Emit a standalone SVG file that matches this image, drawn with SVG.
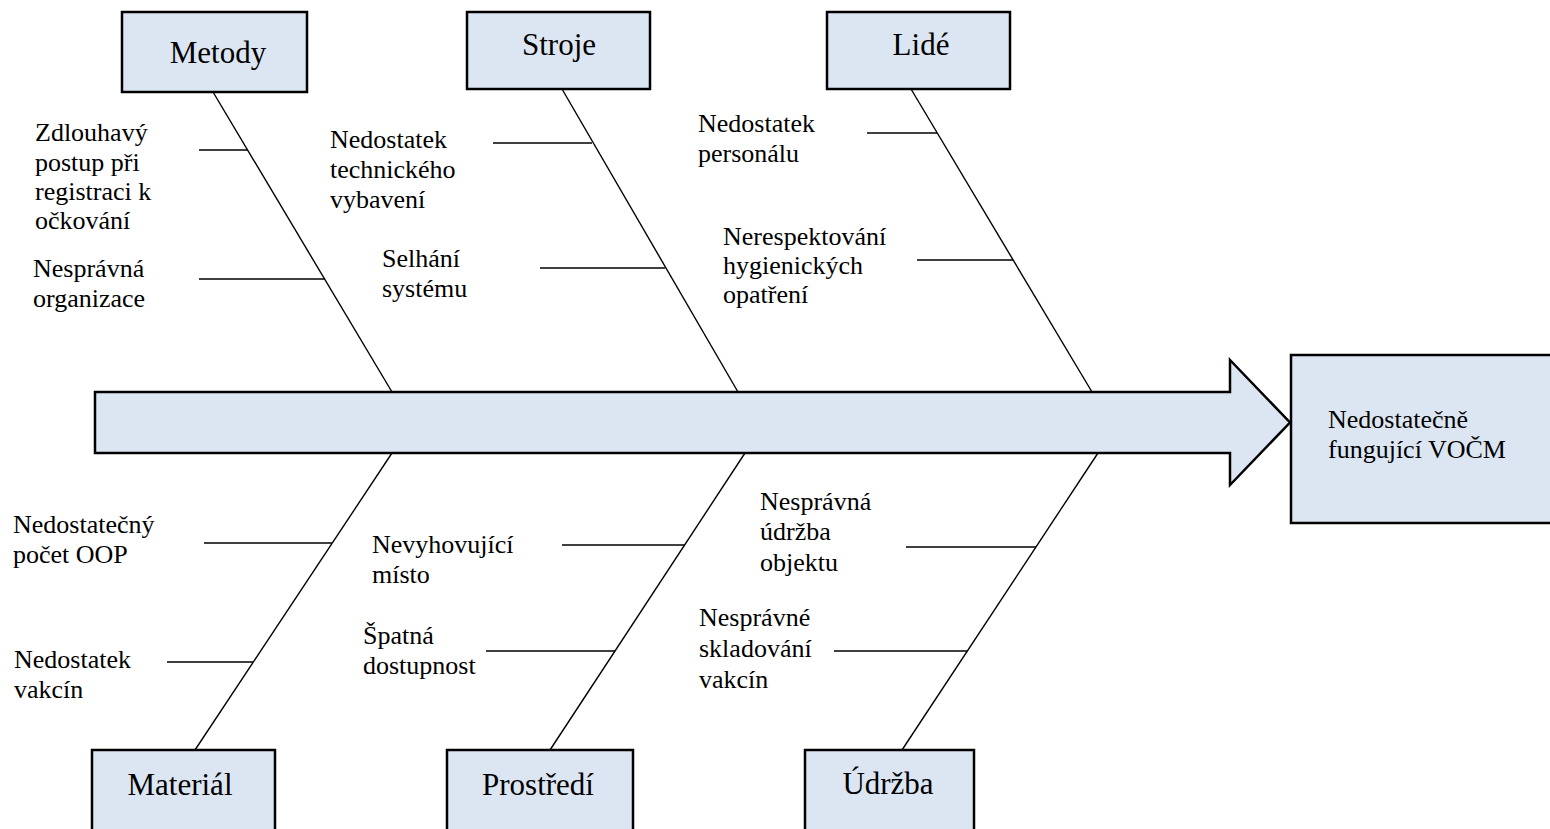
<svg xmlns="http://www.w3.org/2000/svg" width="1550" height="829" viewBox="0 0 1550 829">
  <style>
    .box { fill: #dce6f2; stroke: #000; stroke-width: 2.5; }
    .bone { stroke: #000; stroke-width: 1.4; fill: none; }
    .head { font-size: 31px; fill: #000; text-anchor: middle; }
    .lbl { font-size: 26px; fill: #000; }
  </style>
  <rect width="1550" height="829" fill="#fff"/>

  <!-- fish spine -->
  <g id="spine">
    <polygon class="box" points="95,392 1230,392 1230,360 1290,422.5 1230,485 1230,453 95,453"/>
  </g>

  <g font-family="Liberation Serif, DejaVu Serif, serif">
  <!-- effect -->
  <g id="effect">
    <rect class="box" x="1291" y="355" width="280" height="168"/>
    <text class="lbl" x="1328" y="428">Nedostatečně</text>
    <text class="lbl" x="1328" y="458">fungující VOČM</text>
  </g>

  <!-- category boxes -->
  <g id="metody">
    <rect class="box" x="122" y="12" width="185" height="80"/>
    <text class="head" x="218" y="63">Metody</text>
  </g>
  <g id="stroje">
    <rect class="box" x="467" y="12" width="183" height="77"/>
    <text class="head" x="559" y="55">Stroje</text>
  </g>
  <g id="lide">
    <rect class="box" x="827" y="12" width="183" height="77"/>
    <text class="head" x="921" y="55">Lidé</text>
  </g>
  <g id="material">
    <rect class="box" x="92" y="750" width="183" height="100"/>
    <text class="head" x="180" y="795">Materiál</text>
  </g>
  <g id="prostredi">
    <rect class="box" x="447" y="750" width="186" height="100"/>
    <text class="head" x="538" y="795">Prostředí</text>
  </g>
  <g id="udrzba">
    <rect class="box" x="805" y="750" width="169" height="100"/>
    <text class="head" x="888" y="794">Údržba</text>
  </g>

  <!-- cause labels -->
  <g id="causes">
    <text class="lbl" x="35" y="141">Zdlouhavý</text>
    <text class="lbl" x="35" y="171">postup při</text>
    <text class="lbl" x="35" y="200">registraci k</text>
    <text class="lbl" x="35" y="229">očkování</text>
    <text class="lbl" x="33" y="277">Nesprávná</text>
    <text class="lbl" x="33" y="307">organizace</text>

    <text class="lbl" x="330" y="148">Nedostatek</text>
    <text class="lbl" x="330" y="178">technického</text>
    <text class="lbl" x="330" y="208">vybavení</text>
    <text class="lbl" x="382" y="267">Selhání</text>
    <text class="lbl" x="382" y="297">systému</text>

    <text class="lbl" x="698" y="132">Nedostatek</text>
    <text class="lbl" x="698" y="162">personálu</text>
    <text class="lbl" x="723" y="245">Nerespektování</text>
    <text class="lbl" x="723" y="274">hygienických</text>
    <text class="lbl" x="723" y="303">opatření</text>

    <text class="lbl" x="13" y="533">Nedostatečný</text>
    <text class="lbl" x="13" y="563">počet OOP</text>
    <text class="lbl" x="14" y="668">Nedostatek</text>
    <text class="lbl" x="14" y="698">vakcín</text>

    <text class="lbl" x="372" y="553">Nevyhovující</text>
    <text class="lbl" x="372" y="583">místo</text>
    <text class="lbl" x="363" y="644">Špatná</text>
    <text class="lbl" x="363" y="674">dostupnost</text>

    <text class="lbl" x="760" y="510">Nesprávná</text>
    <text class="lbl" x="760" y="540">údržba</text>
    <text class="lbl" x="760" y="571">objektu</text>
    <text class="lbl" x="699" y="626">Nesprávné</text>
    <text class="lbl" x="699" y="657">skladování</text>
    <text class="lbl" x="699" y="688">vakcín</text>
  </g>
  </g>

  <!-- bones and ribs -->
  <g id="connectors">
    <line class="bone" x1="213" y1="92" x2="392" y2="392"/>
    <line class="bone" x1="199" y1="150" x2="248" y2="150"/>
    <line class="bone" x1="199" y1="279" x2="325" y2="279"/>

    <line class="bone" x1="562" y1="89" x2="738" y2="392"/>
    <line class="bone" x1="493" y1="143" x2="592" y2="143"/>
    <line class="bone" x1="540" y1="268" x2="665" y2="268"/>

    <line class="bone" x1="911" y1="89" x2="1092" y2="392"/>
    <line class="bone" x1="867" y1="133" x2="937" y2="133"/>
    <line class="bone" x1="917" y1="260" x2="1013" y2="260"/>

    <line class="bone" x1="392" y1="453" x2="195" y2="750"/>
    <line class="bone" x1="204" y1="543" x2="332" y2="543"/>
    <line class="bone" x1="167" y1="662" x2="253" y2="662"/>

    <line class="bone" x1="745" y1="453" x2="550" y2="750"/>
    <line class="bone" x1="562" y1="545" x2="685" y2="545"/>
    <line class="bone" x1="486" y1="651" x2="615" y2="651"/>

    <line class="bone" x1="1098" y1="453" x2="902" y2="750"/>
    <line class="bone" x1="906" y1="547" x2="1036" y2="547"/>
    <line class="bone" x1="834" y1="651" x2="967" y2="651"/>
  </g>
</svg>
